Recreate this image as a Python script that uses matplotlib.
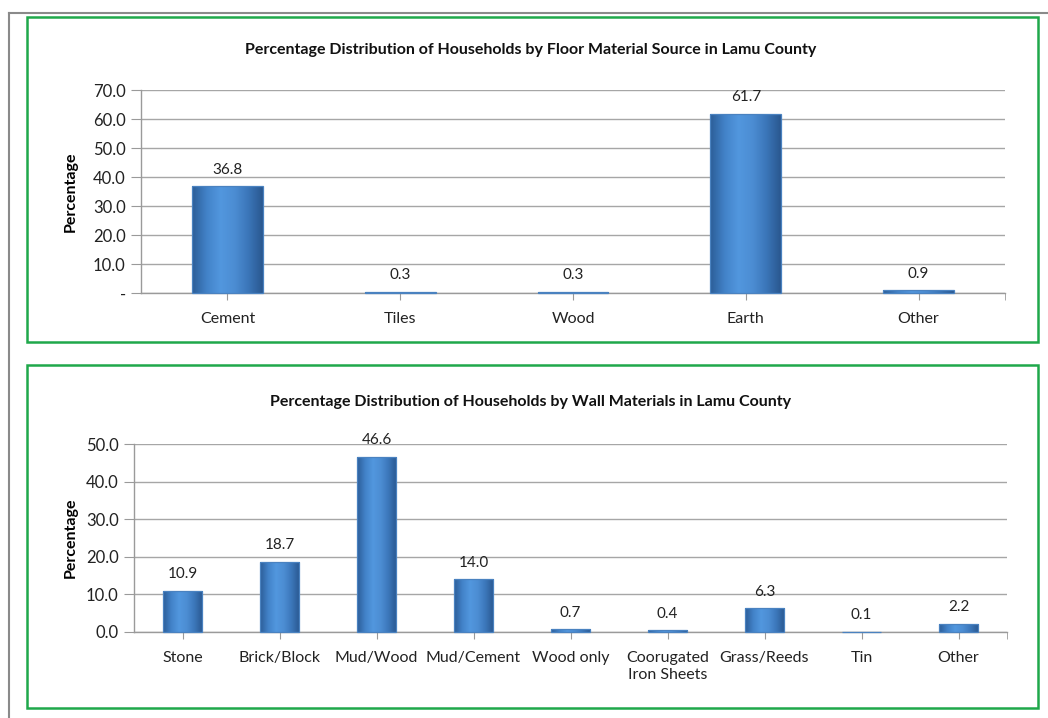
import matplotlib
matplotlib.use("Agg")
import matplotlib.pyplot as plt
import numpy as np
from matplotlib.patches import Rectangle
from matplotlib.lines import Line2D
from matplotlib.colors import LinearSegmentedColormap

plt.rcParams['font.family'] = ['Lato', 'DejaVu Sans']

floor_title = "Percentage Distribution of Households by Floor Material Source in Lamu County"
floor_cats = ["Cement", "Tiles", "Wood", "Earth", "Other"]
floor_vals = [36.8, 0.3, 0.3, 61.7, 0.9]
floor_yticks = [0, 10, 20, 30, 40, 50, 60, 70]
floor_yticklabels = ["-", "10.0", "20.0", "30.0", "40.0", "50.0", "60.0", "70.0"]

wall_title = "Percentage Distribution of Households by Wall Materials in Lamu County"
wall_cats = ["Stone", "Brick/Block", "Mud/Wood", "Mud/Cement", "Wood only",
             "Coorugated\nIron Sheets", "Grass/Reeds", "Tin", "Other"]
wall_vals = [10.9, 18.7, 46.6, 14.0, 0.7, 0.4, 6.3, 0.1, 2.2]
wall_yticks = [0, 10, 20, 30, 40, 50]
wall_yticklabels = ["0.0", "10.0", "20.0", "30.0", "40.0", "50.0"]

W, H = 1048, 718
fig = plt.figure(figsize=(W / 100, H / 100), dpi=100)
fig.patch.set_facecolor("white")

def fx(px):
    return px / W

def fy(py):
    return 1 - py / H

# outer gray frame lines
fig.add_artist(Line2D([fx(9), fx(9)], [fy(13), fy(718)], color="#8a8a8a", lw=1.5))
fig.add_artist(Line2D([fx(9), fx(1048)], [fy(13), fy(13)], color="#8a8a8a", lw=1.5))

# green boxes
for (x0, y0, x1, y1) in [(27, 17, 1038, 342), (27, 365, 1038, 708)]:
    fig.add_artist(Rectangle((fx(x0), fy(y1)), fx(x1 - x0), (y1 - y0) / H,
                             fill=False, edgecolor="#1fa84a", lw=1.8))

cmap = LinearSegmentedColormap.from_list(
    "barg", ["#2c5e98", "#4282c8", "#5297de", "#4c8dd3", "#3b76b9", "#2a5890"])
grad = np.linspace(0, 1, 64).reshape(1, -1)


def draw_chart(rect, cats, vals, yticks, yticklabels, title, title_y):
    ax = fig.add_axes(rect)
    x = np.arange(len(cats))
    bars = ax.bar(x, vals, width=0.41, facecolor="none", edgecolor="#4a82c0",
                  linewidth=0.9, zorder=4, clip_on=False)
    for b in bars:
        bx, by = b.get_x(), b.get_y()
        bw, bh = b.get_width(), b.get_height()
        im = ax.imshow(grad, cmap=cmap, aspect="auto",
                       extent=(bx, bx + bw, by, by + bh), zorder=3,
                       interpolation="bicubic")
        im.set_clip_path(b)
    for xi, v in zip(x, vals):
        ax.annotate(f"{v:.1f}", (xi, v), xytext=(0, 7), textcoords="offset points",
                    ha="center", va="bottom", fontsize=11, color="#222222")
    ax.set_xlim(-0.5, len(cats) - 0.5)
    ax.set_ylim(yticks[0], yticks[-1])
    ax.set_yticks(yticks)
    ax.set_yticklabels(yticklabels)
    ax.set_xticks(x)
    ax.set_xticklabels(cats)
    ax.set_xticks([len(cats) - 0.5], minor=True)
    ax.yaxis.grid(True, color="#a6a6a6", lw=1, zorder=0)
    ax.set_axisbelow(True)
    for s in ["top", "right"]:
        ax.spines[s].set_visible(False)
    for s in ["left", "bottom"]:
        ax.spines[s].set_color("#9a9a9a")
        ax.spines[s].set_linewidth(1)
    ax.tick_params(axis="y", length=7, color="#9a9a9a", labelsize=12,
                   labelcolor="#222222", pad=4)
    ax.tick_params(axis="x", which="both", length=5, color="#9a9a9a",
                   labelsize=11.5, labelcolor="#222222", pad=9)
    ax.set_ylabel("Percentage", fontsize=11.5, fontweight="bold")
    ax.yaxis.set_label_coords((78 - rect[0] * W) / (rect[2] * W), 0.5)
    ax.patch.set_alpha(0)
    fig.text(fx(531), fy(title_y), title, ha="center", va="center",
             fontsize=11.5, fontweight="bold", color="#111111")
    return ax


draw_chart([fx(141), fy(293), fx(1005 - 141), (293 - 90) / H],
           floor_cats, floor_vals, floor_yticks, floor_yticklabels, floor_title, 50)
draw_chart([fx(134), fy(632), fx(1007 - 134), (632 - 444) / H],
           wall_cats, wall_vals, wall_yticks, wall_yticklabels, wall_title, 402)

fig.savefig("out.png", dpi=100, facecolor="white")
